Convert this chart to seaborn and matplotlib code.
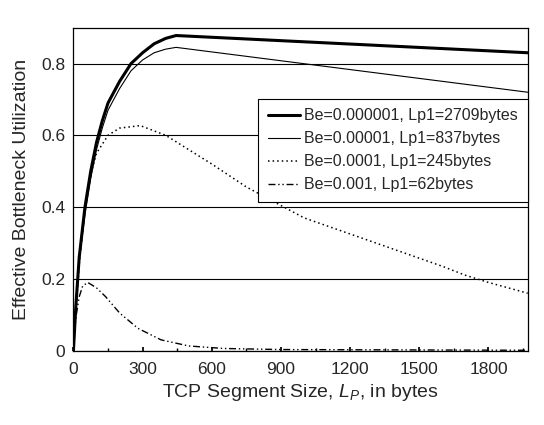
import numpy as np
import pandas as pd
import matplotlib
matplotlib.use("Agg")
import matplotlib.pyplot as plt
from matplotlib.ticker import MultipleLocator, FuncFormatter
import seaborn as sns

# Values (segment size in bytes, utilization)
x_be6 = [0, 10, 25, 50, 75, 100, 125, 150, 200, 250, 300, 350, 400, 445, 1970]
y_be6 = [0, 0.12, 0.26, 0.40, 0.50, 0.58, 0.64, 0.69, 0.75, 0.80, 0.83, 0.855, 0.87, 0.878, 0.83]

x_be5 = [0, 10, 25, 50, 75, 100, 125, 150, 200, 250, 300, 350, 400, 445, 1970]
y_be5 = [0, 0.11, 0.25, 0.38, 0.48, 0.56, 0.62, 0.67, 0.73, 0.78, 0.81, 0.83, 0.84, 0.845, 0.72]

x_be4 = [0, 10, 25, 50, 75, 100, 150, 200, 290, 400, 500, 600, 750, 1000, 1200, 1400, 1600, 1700, 1800, 1970]
y_be4 = [0, 0.10, 0.24, 0.40, 0.49, 0.55, 0.60, 0.62, 0.627, 0.60, 0.56, 0.52, 0.456, 0.37, 0.325, 0.28, 0.235, 0.21, 0.19, 0.16]

x_be3 = [0, 10, 25, 40, 62, 100, 140, 200, 280, 380, 500, 650, 900, 1970]
y_be3 = [0, 0.09, 0.15, 0.18, 0.19, 0.175, 0.15, 0.105, 0.062, 0.03, 0.013, 0.006, 0.003, 0.001]

labels = ["Be=0.000001, Lp1=2709bytes", "Be=0.00001, Lp1=837bytes",
          "Be=0.0001, Lp1=245bytes", "Be=0.001, Lp1=62bytes"]

sns.set_theme(style="white")
plt.rcParams['font.family'] = ['Liberation Sans', 'DejaVu Sans']
plt.rcParams['mathtext.fontset'] = 'custom'
plt.rcParams['mathtext.it'] = 'Liberation Sans:italic'
plt.rcParams['mathtext.rm'] = 'Liberation Sans'

fig = plt.figure(figsize=(5.44, 4.25), dpi=100)
ax = fig.add_axes([0.135, 0.175, 0.835, 0.76])

series = [(x_be6, y_be6, "-", 2.2), (x_be5, y_be5, "-", 0.8),
          (x_be4, y_be4, (0, (1, 2)), 1.1), (x_be3, y_be3, (0, (5, 2, 1, 2, 1, 2)), 1.0)]
for (xs, ys, ls, lw), lab in zip(series, labels):
    df = pd.DataFrame({"Lp": xs, "U": ys})
    sns.lineplot(data=df, x="Lp", y="U", ax=ax, color="black", linestyle=ls,
                 linewidth=lw, label=lab, sort=False)

ax.set_xlim(0, 1970)
ax.set_ylim(0, 0.9)
ax.xaxis.set_major_locator(MultipleLocator(300))
ax.xaxis.set_minor_locator(MultipleLocator(150))
ax.yaxis.set_major_locator(MultipleLocator(0.2))
ax.yaxis.set_major_formatter(FuncFormatter(lambda v, p: "0" if v == 0 else f"{v:.1f}"))
ax.tick_params(axis="x", which="both", direction="in", length=3, color="black",
               bottom=True, labelsize=12.5, pad=8)
ax.tick_params(axis="x", which="minor", length=2)
ax.tick_params(axis="y", direction="in", length=0, labelsize=12.5, pad=6)
ax.grid(axis="y", color="black", linewidth=0.8)
for s in ax.spines.values():
    s.set_color("black")
    s.set_linewidth(0.9)

ax.set_xlabel(r"TCP Segment Size, $L_P$, in bytes", fontsize=14, labelpad=4)
ax.set_ylabel("Effective Bottleneck Utilization", fontsize=14, labelpad=8)

leg = ax.legend(loc="upper right", bbox_to_anchor=(1.0, 0.78), fontsize=11.5,
                frameon=True, fancybox=False, edgecolor="black", framealpha=1,
                handlelength=2.0, handletextpad=0.3, labelspacing=0.5,
                borderpad=0.6, borderaxespad=0)
leg.get_frame().set_linewidth(0.8)

fig.savefig("out.png", dpi=100)
